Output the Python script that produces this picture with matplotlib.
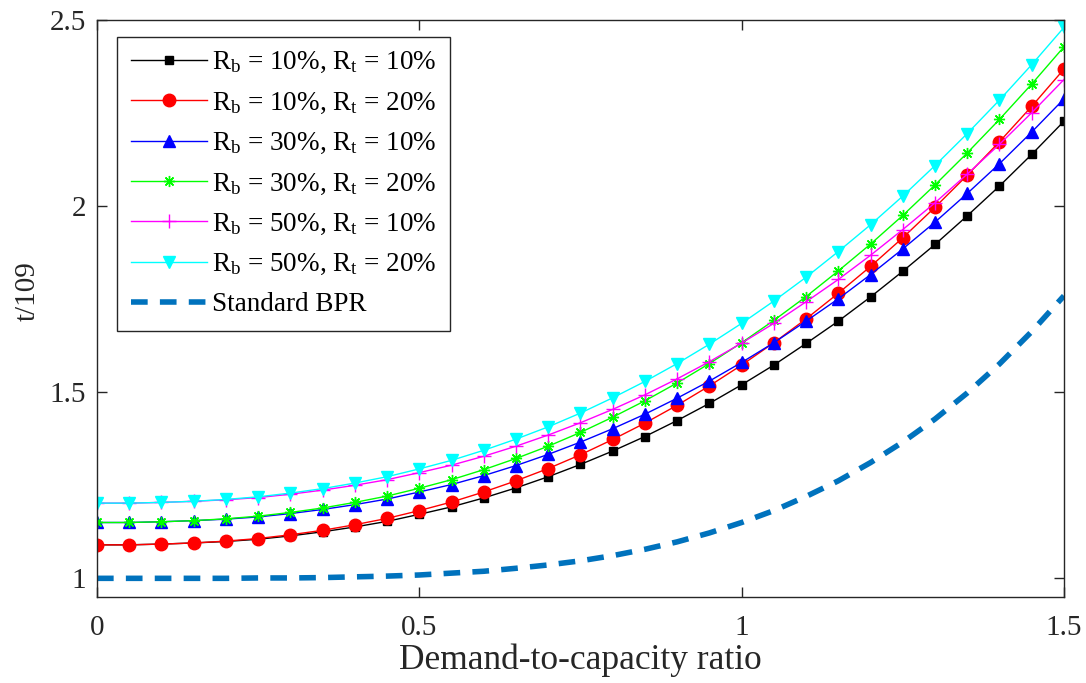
import matplotlib.pyplot as plt

plt.rcParams['font.family'] = ['Liberation Serif', 'DejaVu Serif']
plt.rcParams['mathtext.fontset'] = 'custom'
plt.rcParams['mathtext.rm'] = 'Liberation Serif'
plt.rcParams['mathtext.it'] = 'Liberation Serif:italic'

# demand-to-capacity ratio
ratio = [0.00, 0.05, 0.10, 0.15, 0.20, 0.25, 0.30, 0.35, 0.40, 0.45, 0.50,
         0.55, 0.60, 0.65, 0.70, 0.75, 0.80, 0.85, 0.90, 0.95, 1.00,
         1.05, 1.10, 1.15, 1.20, 1.25, 1.30, 1.35, 1.40, 1.45, 1.50]

rb10_rt10 = [1.090, 1.090, 1.092, 1.095, 1.099, 1.105, 1.114, 1.125, 1.138, 1.153, 1.172,
             1.192, 1.216, 1.243, 1.273, 1.306, 1.342, 1.381, 1.424, 1.470, 1.520,
             1.573, 1.631, 1.691, 1.756, 1.825, 1.897, 1.974, 2.054, 2.139, 2.228]
rb10_rt20 = [1.090, 1.090, 1.092, 1.095, 1.100, 1.107, 1.117, 1.129, 1.144, 1.161, 1.182,
             1.205, 1.232, 1.262, 1.295, 1.332, 1.373, 1.417, 1.465, 1.517, 1.573,
             1.633, 1.697, 1.766, 1.838, 1.915, 1.997, 2.083, 2.173, 2.268, 2.368]
rb30_rt10 = [1.150, 1.150, 1.152, 1.155, 1.159, 1.165, 1.174, 1.185, 1.198, 1.213, 1.232,
             1.252, 1.276, 1.303, 1.333, 1.366, 1.402, 1.441, 1.484, 1.530, 1.580,
             1.633, 1.691, 1.751, 1.816, 1.885, 1.957, 2.034, 2.114, 2.199, 2.288]
rb30_rt20 = [1.150, 1.150, 1.152, 1.155, 1.160, 1.167, 1.177, 1.189, 1.204, 1.221, 1.242,
             1.265, 1.292, 1.322, 1.355, 1.392, 1.433, 1.477, 1.525, 1.577, 1.633,
             1.693, 1.757, 1.826, 1.898, 1.975, 2.057, 2.143, 2.233, 2.328, 2.428]
rb50_rt10 = [1.202, 1.202, 1.204, 1.207, 1.211, 1.217, 1.226, 1.237, 1.250, 1.265, 1.284,
             1.304, 1.328, 1.355, 1.385, 1.418, 1.454, 1.493, 1.536, 1.582, 1.632,
             1.685, 1.743, 1.803, 1.868, 1.937, 2.009, 2.086, 2.166, 2.251, 2.340]
rb50_rt20 = [1.202, 1.202, 1.204, 1.207, 1.212, 1.219, 1.229, 1.241, 1.256, 1.273, 1.294,
             1.317, 1.344, 1.374, 1.407, 1.444, 1.485, 1.529, 1.577, 1.629, 1.685,
             1.745, 1.809, 1.878, 1.950, 2.027, 2.109, 2.195, 2.285, 2.380, 2.480]
standard_bpr = [1.000, 1.000, 1.000, 1.000, 1.000, 1.001, 1.001, 1.002, 1.004, 1.006, 1.009,
                1.014, 1.019, 1.027, 1.036, 1.047, 1.061, 1.078, 1.098, 1.122, 1.150,
                1.182, 1.220, 1.262, 1.311, 1.366, 1.428, 1.498, 1.576, 1.663, 1.759]

labels = [r'R$_\mathrm{b}$ = 10%, R$_\mathrm{t}$ = 10%',
          r'R$_\mathrm{b}$ = 10%, R$_\mathrm{t}$ = 20%',
          r'R$_\mathrm{b}$ = 30%, R$_\mathrm{t}$ = 10%',
          r'R$_\mathrm{b}$ = 30%, R$_\mathrm{t}$ = 20%',
          r'R$_\mathrm{b}$ = 50%, R$_\mathrm{t}$ = 10%',
          r'R$_\mathrm{b}$ = 50%, R$_\mathrm{t}$ = 20%']

fig = plt.figure(figsize=(10.86, 6.83), dpi=100)
ax = fig.add_axes([0.0893, 0.126, 0.8904, 0.8447])

ax.plot(ratio, rb10_rt10, color='k', lw=1, marker='s', ms=6, label=labels[0])
ax.plot(ratio, rb10_rt20, color='#FF0000', lw=1, marker='o', ms=9, label=labels[1])
ax.plot(ratio, rb30_rt10, color='#0000FF', lw=1, marker='^', ms=9, label=labels[2])
ax.plot(ratio, rb30_rt20, color='#00FF00', lw=1, marker=(8, 2, 0), ms=8, mew=1, label=labels[3])
ax.plot(ratio, rb50_rt10, color='#FF00FF', lw=1, marker='+', ms=10, mew=1, label=labels[4])
ax.plot(ratio, rb50_rt20, color='#00FFFF', lw=1, marker='v', ms=9, label=labels[5])
ax.plot(ratio, standard_bpr, color='#0072BD', lw=4, ls=(0, (3, 2.2)), label='Standard BPR')

ax.set_xlim(0, 1.5)
ax.set_ylim(0.95, 2.5)
ax.set_xticks([0, 0.5, 1, 1.5])
ax.set_xticklabels(['0', '0.5', '1', '1.5'])
ax.set_yticks([1, 1.5, 2, 2.5])
ax.set_yticklabels(['1', '1.5', '2', '2.5'])
ax.tick_params(direction='in', length=7, width=1, labelsize=21, colors='#262626',
               top=True, right=True, pad=8)
ax.tick_params(axis='x', pad=13)
for sp in ax.spines.values():
    sp.set_color('#262626')
    sp.set_linewidth(1)

ax.set_xlabel('Demand-to-capacity ratio', fontsize=25.5, color='#262626', labelpad=2)
ax.set_ylabel('t/109', fontsize=21, color='#262626')
ax.yaxis.set_label_coords(-0.058, 0.53)

leg = ax.legend(loc='upper left', bbox_to_anchor=(0.021, 0.971), borderaxespad=0,
                fontsize=19.5, fancybox=False, edgecolor='#262626', framealpha=1,
                handlelength=2.8, handletextpad=0.2, labelspacing=0.56,
                borderpad=0.5)
leg.get_frame().set_linewidth(1)

fig.savefig('out.png', dpi=100)
